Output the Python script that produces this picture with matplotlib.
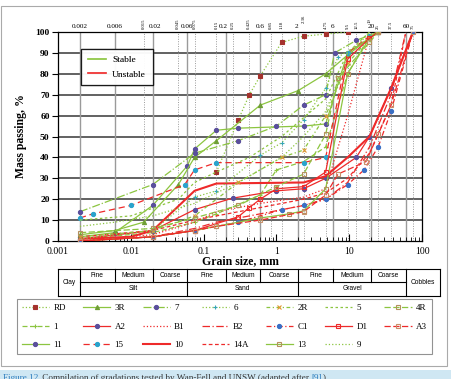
import matplotlib
matplotlib.use('Agg')
import matplotlib.pyplot as plt
import matplotlib.transforms as mtransforms
from matplotlib.lines import Line2D
from matplotlib.patches import Rectangle

plt.rcParams['font.family'] = ['Liberation Serif', 'DejaVu Serif']

# grain size (mm) / mass passing (%)
# stable samples
x_RD = [0.15, 0.3, 0.425, 0.6, 1.18, 2.36, 4.75, 9.5]
y_RD = [33, 58, 70, 79, 95, 98, 99, 100]
x_3R = [0.002, 0.006, 0.015, 0.045, 0.075, 0.15, 0.6, 2, 4.75, 9.5, 19, 25]
y_3R = [3, 5, 9, 27, 40, 48, 65, 72, 80, 89, 97, 100]
x_7 = [0.002, 0.02, 0.075, 0.3, 1, 2.36, 4.75, 6.3, 12.5, 25]
y_7 = [14, 27, 42, 48, 55, 65, 70, 90, 96, 100]
x_6 = [0.002, 0.02, 0.075, 0.15, 0.6, 1.18, 2.36, 4.75, 7, 19, 25]
y_6 = [1, 5, 21, 24, 41, 47, 58, 73, 88, 97, 100]
x_2R = [0.002, 0.02, 0.075, 0.3, 1.18, 2.36, 4.75, 9.5, 19, 25]
y_2R = [2, 5, 12, 28, 40, 43.5, 60, 85, 97, 100]
x_5 = [0.002, 0.01, 0.045, 0.075, 0.15, 0.425, 1.18, 4.75, 9.5, 19]
y_5 = [10, 12, 20, 28, 33, 40, 50, 68, 90, 100]
x_4R = [0.002, 0.02, 0.075, 0.3, 1, 2.36, 4.75, 7, 19, 25]
y_4R = [4, 6, 11, 17, 26, 32, 51, 78, 95, 100]
x_1 = [0.002, 0.02, 0.075, 0.15, 0.6, 1, 2.36, 4.75, 9.5, 19]
y_1 = [1, 4, 9, 13, 22, 34, 38, 45, 80, 98]
x_11 = [0.002, 0.006, 0.02, 0.06, 0.075, 0.15, 0.3, 2.36, 4.75, 9.5, 19, 25]
y_11 = [2, 4, 17, 36, 44, 53, 54, 55, 56, 90, 97, 100]
x_13 = [0.002, 0.02, 0.075, 0.15, 0.6, 1.5, 2.36, 4.75, 9.5, 19, 25]
y_13 = [0, 2, 5, 7, 11, 13, 14.4, 25, 80, 97, 100]
x_9 = [0.002, 0.006, 0.02, 0.075, 0.3, 1.18, 2.36, 4.75, 9.5, 19]
y_9 = [7, 9, 12, 18, 28, 40, 50, 62, 88, 100]

# unstable samples
x_A2 = [0.002, 0.02, 0.075, 0.25, 1, 2.36, 4.75, 12.5, 19, 37.5, 75]
y_A2 = [1, 5, 15, 20.5, 24, 25, 30, 40, 50, 73, 100]
x_B1 = [0.002, 0.02, 0.075, 0.15, 0.6, 2.36, 4.75, 9.5, 19]
y_B1 = [0, 3, 9, 14, 18, 21, 25, 60, 98]
x_B2 = [0.002, 0.02, 0.075, 0.15, 0.6, 2.36, 4.75, 9.5, 19, 37.5, 60]
y_B2 = [0, 2, 6, 9, 13, 17, 20, 28, 45, 70, 100]
x_C1 = [0.002, 0.02, 0.075, 0.3, 1.18, 2.36, 4.75, 9.5, 16, 25, 37.5, 75]
y_C1 = [0, 2, 5, 9, 15, 17, 20, 27, 34, 45, 62, 100]
x_D1 = [0.002, 0.02, 0.075, 0.3, 0.425, 0.6, 1, 2.36, 4.75, 9.5, 19, 25]
y_D1 = [0, 2, 5, 11.6, 16, 20, 25, 26, 33, 87, 97, 100]
x_A3 = [0.002, 0.02, 0.075, 0.15, 0.6, 2.36, 4.75, 7, 17, 25, 37.5, 75]
y_A3 = [0, 2, 5, 7, 10, 14, 22, 32, 38, 51, 65, 100]
x_15 = [0.002, 0.003, 0.01, 0.055, 0.075, 0.15, 2.36, 4.75, 9.5, 19, 25]
y_15 = [11, 13, 17, 27, 34, 37.5, 37.5, 40, 90, 98, 100]
x_10 = [0.002, 0.01, 0.02, 0.075, 0.15, 2.36, 4.75, 9.5, 19, 37.5, 75]
y_10 = [1, 2, 5, 24, 27.5, 28, 31, 40, 50, 73, 100]
x_14A = [0.002, 0.02, 0.075, 0.15, 0.6, 2.36, 4.75, 9.5, 19, 37.5, 60]
y_14A = [2, 5, 10, 12, 16, 20, 23, 30, 42, 65, 100]

# class boundaries and sieve sizes
bounds = [0.002, 0.006, 0.02, 0.06, 0.2, 0.6, 2, 6, 20, 60]
bound_labels = ['0.002', '0.006', '0.02', '0.06', '0.2', '0.6', '2', '6', '20', '60']
bound_shift = [0, 0, 2, -0.6, -1.5, 0, -1, 0, 0, 0]  # points, keeps labels off the sieve labels
sieves = [0.015, 0.045, 0.075, 0.15, 0.25, 0.425, 0.85, 1.18, 2.36, 4.75, 9.5, 12.5, 19, 25, 37.5, 75]
sieve_labels = ['0.015', '0.045', '0.075', '0.15', '0.25', '0.425', '0.85', '1.18', '2.36', '4.75',
                '9.5', '12.5', '19', '25', '37.5', '75']
raised = ['2.36', '19']  # these sit above their neighbour's label

G = '#8cc540'
R = '#ee2a2a'
PUR = '#5a4f9c'
CYA = '#2aa3cc'
TAN = '#b5905e'
BLU = '#3a6fc4'

# name, x, y, color, linestyle, marker, marker colour, filled
series = [
    ('RD', x_RD, y_RD, G, ':', 's', '#a5322d', True),
    ('1', x_1, y_1, G, (0, (4, 2)), '+', G, True),
    ('11', x_11, y_11, G, '-', 'o', PUR, True),
    ('3R', x_3R, y_3R, G, '-', '^', '#6f9e35', True),
    ('A2', x_A2, y_A2, R, '-', 'o', PUR, True),
    ('15', x_15, y_15, R, (0, (5, 3)), 'o', CYA, True),
    ('7', x_7, y_7, G, '-.', 'o', PUR, True),
    ('B1', x_B1, y_B1, R, ':', None, R, True),
    ('10', x_10, y_10, R, '-', None, R, True),
    ('6', x_6, y_6, G, ':', '+', '#37a6b8', True),
    ('B2', x_B2, y_B2, R, (0, (6, 2, 1, 2)), None, R, True),
    ('14A', x_14A, y_14A, R, (0, (3, 2)), None, R, True),
    ('2R', x_2R, y_2R, G, (0, (3, 2, 1, 2)), 'x', '#e0962e', True),
    ('C1', x_C1, y_C1, R, (0, (4, 2, 1, 2)), 'o', BLU, True),
    ('13', x_13, y_13, G, '-', 's', TAN, False),
    ('5', x_5, y_5, G, (0, (2, 2)), None, G, True),
    ('D1', x_D1, y_D1, R, '-', 's', R, False),
    ('9', x_9, y_9, G, ':', None, G, True),
    ('4R', x_4R, y_4R, G, (0, (5, 2)), 's', TAN, False),
    ('A3', x_A3, y_A3, R, (0, (5, 2)), 's', '#c8906a', False),
]

fig = plt.figure(figsize=(4.52, 3.79), dpi=100)
ax = fig.add_axes([58 / 452, 138 / 379, 364 / 452, 209 / 379])
ax.set_xscale('log')
ax.set_xlim(0.001, 100)
ax.set_ylim(0, 100)

for v in range(10, 101, 10):
    ax.axhline(v, color='#555555', lw=1.3, zorder=1)
for b in bounds:
    ax.axvline(b, color='#9a9a9a', lw=1.0, zorder=1)
for s in sieves:
    ax.axvline(s, color='#9a9a9a', lw=0.7, ls=(0, (1, 1.5)), zorder=1)

handles = []
for name, xs, ys, col, ls, mk, mc, filled in series:
    lw = 1.5 if name == '10' else 0.9
    ln, = ax.plot(xs, ys, color=col, ls=ls, lw=lw, marker=mk, ms=3.0,
                  mec=mc, mfc=mc if filled else 'none', mew=0.8, zorder=3, label=name)
    handles.append(ln)

ax.set_yticks(range(0, 101, 10))
ax.tick_params(axis='y', direction='out', length=4, width=0.8, labelsize=6.8, pad=2)
ax.tick_params(axis='x', which='major', direction='in', length=5, width=0.8, labelsize=7, pad=4)
ax.tick_params(axis='x', which='minor', direction='in', length=3, width=0.6)
for lab in ax.get_yticklabels():
    lab.set_fontweight('bold')
ax.set_xticks([0.001, 0.01, 0.1, 1, 10, 100])
ax.set_xticklabels(['0.001', '0.01', '0.1', '1', '10', '100'])
ax.set_xlabel('Grain size, mm', fontsize=8.5, fontweight='bold', labelpad=0)
ax.set_ylabel('Mass passing, %', fontsize=8.5, fontweight='bold', labelpad=6)
for sp in ax.spines.values():
    sp.set_linewidth(0.9)

# labels above the plot
trans = mtransforms.blended_transform_factory(ax.transData, ax.transAxes)
for b, lab, dx in zip(bounds, bound_labels, bound_shift):
    ax.annotate(lab, (b, 1.012), xycoords=trans, xytext=(dx, 0), textcoords='offset points',
                ha='center', va='bottom', fontsize=5.2, annotation_clip=False)
for s, lab in zip(sieves, sieve_labels):
    yy = 1.045 if lab in raised else 1.012
    ax.text(s, yy, lab, transform=trans, ha='center', va='bottom', fontsize=3.4, rotation=90)

# stable / unstable legend
leg1 = ax.legend([Line2D([], [], color=G, lw=1.2), Line2D([], [], color=R, lw=1.2)],
                 ['Stable', 'Unstable'], loc='upper left', bbox_to_anchor=(0.05, 0.94),
                 fontsize=6.8, frameon=True, fancybox=False, edgecolor='black',
                 handlelength=2.0, handletextpad=0.6, borderpad=0.7, labelspacing=0.6)
leg1.get_frame().set_linewidth(0.9)
leg1.set_zorder(5)
ax.add_artist(leg1)

# soil classification table under the axis
t_top, t_mid, t_bot = -0.134, -0.196, -0.263
x_left, x_right = 0.001, 177
kw = dict(transform=trans, color='black', lw=0.8, clip_on=False)
ax.plot([x_left, x_right], [t_top, t_top], **kw)
ax.plot([x_left, x_right], [t_bot, t_bot], **kw)
ax.plot([bounds[0], bounds[-1]], [t_mid, t_mid], **kw)
for b in [x_left, 0.002, 0.06, 2, 60, x_right]:
    ax.plot([b, b], [t_top, t_bot], **kw)
for b in [0.006, 0.02, 0.2, 0.6, 6, 20]:
    ax.plot([b, b], [t_top, t_mid], **kw)
sans = ['Liberation Sans', 'DejaVu Sans']
tk = dict(transform=trans, ha='center', va='center', fontsize=4.8, family=sans)
sub_names = ['Fine', 'Medium', 'Coarse'] * 3
for i, nm in enumerate(sub_names):
    xc = (bounds[i] * bounds[i + 1]) ** 0.5
    ax.text(xc, (t_top + t_mid) / 2, nm, **tk)
for lo, hi, nm in [(0.002, 0.06, 'Silt'), (0.06, 2, 'Sand'), (2, 60, 'Gravel')]:
    ax.text((lo * hi) ** 0.5, (t_mid + t_bot) / 2, nm, **tk)
ax.text((x_left * 0.002) ** 0.5, (t_top + t_bot) / 2, 'Clay', **tk)
ax.text((60 * x_right) ** 0.5, (t_top + t_bot) / 2, 'Cobbles', **tk)

# legend of samples
leg2 = fig.legend(handles=handles, ncol=7, loc='center', mode='expand',
                  bbox_to_anchor=(12 / 452, 24 / 379, 425 / 452, 57 / 379),
                  fontsize=6.5, frameon=True, fancybox=False, edgecolor='#777777',
                  handlelength=3.0, handletextpad=0.5, columnspacing=1.0,
                  labelspacing=1.1, borderpad=0.6)
leg2.get_frame().set_linewidth(0.8)

# outer frame and caption band
fig.add_artist(Rectangle((1 / 452, 13 / 379), 446 / 452, 360 / 379, transform=fig.transFigure,
                         fill=False, edgecolor='#aaaaaa', lw=0.8))
fig.add_artist(Rectangle((0, 0), 1, 9 / 379, transform=fig.transFigure,
                         facecolor='#cfe7f3', edgecolor='none'))

cap_y = 5 / 379
parts = [('Figure 12.', '#2a7bbd'),
         (' Compilation of gradations tested by Wan-Fell and UNSW (adapted after ', '#333333'),
         ('[9]', '#2a7bbd'), (').', '#333333')]
fig.canvas.draw()
renderer = fig.canvas.get_renderer()
xpos = 3 / 452
for txt, col in parts:
    t = fig.text(xpos, cap_y, txt, fontsize=6.6, color=col, va='top', ha='left')
    w = t.get_window_extent(renderer).width
    xpos += w / fig.bbox.width

fig.savefig('out.png', dpi=100)
